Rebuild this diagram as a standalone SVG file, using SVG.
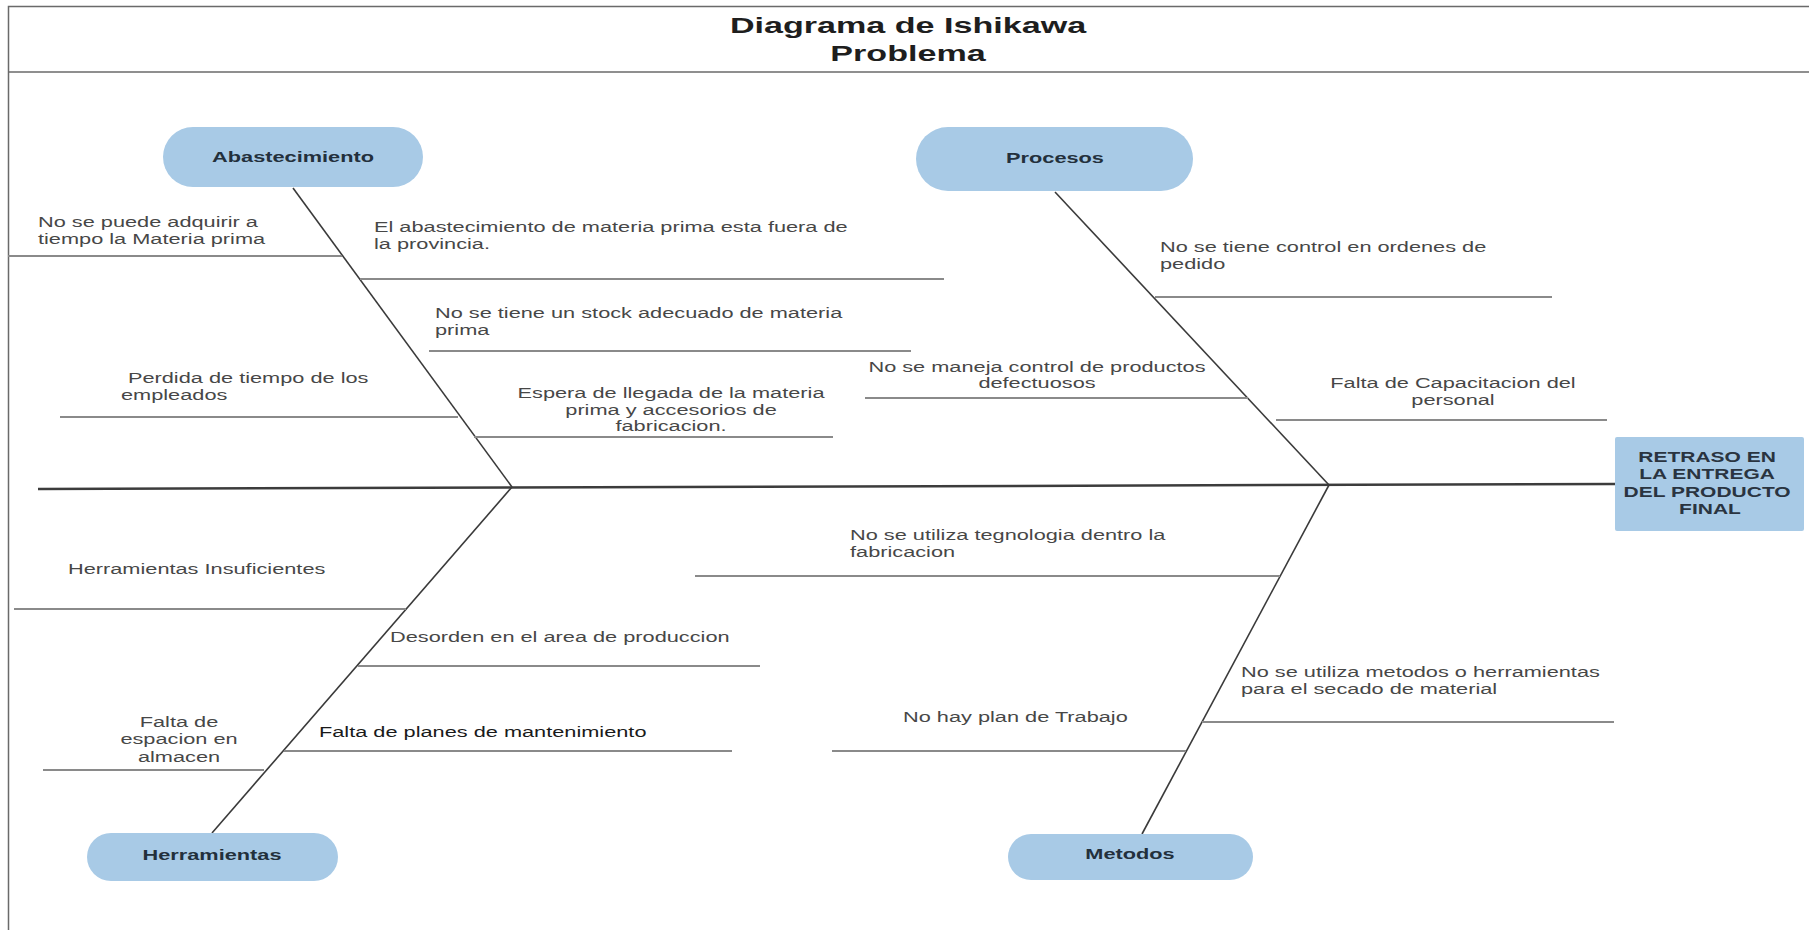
<svg xmlns="http://www.w3.org/2000/svg" width="1809" height="930" viewBox="0 0 1809 930">
  <style>
    .frame { fill: none; stroke: #6a6a6a; stroke-width: 1.5; }
    .spine { stroke: #3c3c3c; stroke-width: 2.5; fill: none; }
    .bone { stroke: #3a3a3a; stroke-width: 1.6; fill: none; }
    .branch { stroke: #8a8a8a; stroke-width: 1.8; fill: none; }
    .pill { fill: #a8cae6; }
    .effect { fill: #a8cae6; }
    .title { font-family: "Liberation Sans", Arial, sans-serif; font-weight: bold; font-size: 22px; fill: #1e1e1e; text-anchor: middle; }
    .cat { font-family: "Liberation Sans", Arial, sans-serif; font-weight: bold; font-size: 15px; fill: #23303c; text-anchor: middle; }
    .eff { font-family: "Liberation Sans", Arial, sans-serif; font-weight: bold; font-size: 15px; fill: #2a3440; text-anchor: middle; }
    .t { font-family: "Liberation Sans", Arial, sans-serif; font-size: 15px; fill: #474747; }
    .c { text-anchor: middle; }
    .dark { fill: #1a1a1a; }
  </style>

  <rect width="1809" height="930" fill="#ffffff"/>

  <!-- outer frame and title band -->
  <g id="frame">
    <rect class="frame" x="8.5" y="6.5" width="1810" height="940"/>
    <line class="frame" x1="8" y1="72" x2="1809" y2="72" stroke-width="2"/>
  </g>

  <g id="title">
    <text class="title" transform="translate(908 33) scale(1.55 1)">Diagrama de Ishikawa</text>
    <text class="title" transform="translate(908 61) scale(1.55 1)">Problema</text>
  </g>

  <!-- spine, category bones and cause branches -->
  <g id="connectors">
    <line class="spine" x1="38" y1="489" x2="1615" y2="484"/>

    <line class="bone" x1="293" y1="188" x2="512" y2="487"/>
    <line class="bone" x1="1055" y1="192" x2="1329" y2="485"/>
    <line class="bone" x1="512" y1="487" x2="212" y2="833"/>
    <line class="bone" x1="1329" y1="485" x2="1142" y2="834"/>

    <!-- Abastecimiento causes -->
    <line class="branch" x1="8" y1="256" x2="342" y2="256"/>
    <line class="branch" x1="360" y1="279" x2="944" y2="279"/>
    <line class="branch" x1="429" y1="351" x2="911" y2="351"/>
    <line class="branch" x1="60" y1="417" x2="458" y2="417"/>
    <line class="branch" x1="474" y1="437" x2="833" y2="437"/>

    <!-- Procesos causes -->
    <line class="branch" x1="1155" y1="297" x2="1552" y2="297"/>
    <line class="branch" x1="865" y1="398" x2="1248" y2="398"/>
    <line class="branch" x1="1276" y1="420" x2="1607" y2="420"/>

    <!-- Herramientas causes -->
    <line class="branch" x1="14" y1="609" x2="406" y2="609"/>
    <line class="branch" x1="358" y1="666" x2="760" y2="666"/>
    <line class="branch" x1="284" y1="751" x2="732" y2="751"/>
    <line class="branch" x1="43" y1="770" x2="264" y2="770"/>

    <!-- Metodos causes -->
    <line class="branch" x1="695" y1="576" x2="1280" y2="576"/>
    <line class="branch" x1="1202" y1="722" x2="1614" y2="722"/>
    <line class="branch" x1="832" y1="751" x2="1186" y2="751"/>
  </g>

  <!-- category heads -->
  <g id="abastecimiento">
    <rect class="pill" x="163" y="127" width="260" height="60" rx="30"/>
    <text class="cat" transform="translate(293 162) scale(1.45 1)">Abastecimiento</text>
  </g>
  <g id="procesos">
    <rect class="pill" x="916" y="127" width="277" height="64" rx="32"/>
    <text class="cat" transform="translate(1055 163) scale(1.45 1)">Procesos</text>
  </g>
  <g id="herramientas">
    <rect class="pill" x="87" y="833" width="251" height="48" rx="24"/>
    <text class="cat" transform="translate(212 860) scale(1.45 1)">Herramientas</text>
  </g>
  <g id="metodos">
    <rect class="pill" x="1008" y="834" width="245" height="46" rx="23"/>
    <text class="cat" transform="translate(1130 859) scale(1.45 1)">Metodos</text>
  </g>

  <!-- effect -->
  <g id="efecto">
    <rect class="effect" x="1615" y="437" width="189" height="94" rx="2"/>
    <text class="eff" transform="translate(1710 462) scale(1.4 1)">
      <tspan x="0">RETRASO  EN</tspan>
      <tspan x="0" dy="17.5">LA ENTREGA</tspan>
      <tspan x="0" dy="17.5">DEL PRODUCTO</tspan>
      <tspan x="0" dy="17.5">FINAL</tspan>
    </text>
  </g>

  <!-- cause labels -->
  <g id="causa-1">
    <text class="t" transform="translate(38 227) scale(1.45 1)"><tspan x="0">No se puede adquirir a</tspan><tspan x="0" dy="16.7">tiempo la Materia prima</tspan></text>
  </g>
  <g id="causa-2">
    <text class="t" transform="translate(374 232) scale(1.45 1)"><tspan x="0">El abastecimiento de  materia prima esta fuera de</tspan><tspan x="0" dy="16.7">la provincia.</tspan></text>
  </g>
  <g id="causa-3">
    <text class="t" transform="translate(435 318) scale(1.45 1)"><tspan x="0">No se tiene un stock adecuado de materia</tspan><tspan x="0" dy="16.7">prima</tspan></text>
  </g>
  <g id="causa-4">
    <text class="t" transform="translate(121 383) scale(1.45 1)"><tspan x="4.8">Perdida de tiempo de los</tspan><tspan x="0" dy="16.7">empleados</tspan></text>
  </g>
  <g id="causa-5">
    <text class="t c" transform="translate(671 398) scale(1.45 1)"><tspan x="0">Espera de llegada de la materia</tspan><tspan x="0" dy="16.7">prima y accesorios de</tspan><tspan x="0" dy="16.7">fabricacion.</tspan></text>
  </g>
  <g id="causa-6">
    <text class="t" transform="translate(1160 252) scale(1.45 1)"><tspan x="0">No se tiene control en ordenes de</tspan><tspan x="0" dy="16.7">pedido</tspan></text>
  </g>
  <g id="causa-7">
    <text class="t c" transform="translate(1037 372) scale(1.45 1)"><tspan x="0">No se maneja control de productos</tspan><tspan x="0" dy="16.2">defectuosos</tspan></text>
  </g>
  <g id="causa-8">
    <text class="t c" transform="translate(1453 388) scale(1.45 1)"><tspan x="0">Falta de Capacitacion del</tspan><tspan x="0" dy="16.7">personal</tspan></text>
  </g>
  <g id="causa-9">
    <text class="t" transform="translate(68 574) scale(1.45 1)">Herramientas Insuficientes</text>
  </g>
  <g id="causa-10">
    <text class="t" transform="translate(390 642) scale(1.45 1)">Desorden en el area de produccion</text>
  </g>
  <g id="causa-11">
    <text class="t dark" transform="translate(319 737) scale(1.45 1)">Falta de planes de mantenimiento</text>
  </g>
  <g id="causa-12">
    <text class="t c" transform="translate(179 727) scale(1.45 1)"><tspan x="0">Falta de</tspan><tspan x="0" dy="17.3">espacion en</tspan><tspan x="0" dy="17.3">almacen</tspan></text>
  </g>
  <g id="causa-13">
    <text class="t" transform="translate(850 540) scale(1.45 1)"><tspan x="0">No se utiliza tegnologia  dentro la</tspan><tspan x="0" dy="16.7">fabricacion</tspan></text>
  </g>
  <g id="causa-14">
    <text class="t" transform="translate(1241 677) scale(1.45 1)"><tspan x="0">No se utiliza metodos o herramientas</tspan><tspan x="0" dy="16.7">para el secado de material</tspan></text>
  </g>
  <g id="causa-15">
    <text class="t" transform="translate(903 722) scale(1.45 1)">No hay plan de Trabajo</text>
  </g>
</svg>
